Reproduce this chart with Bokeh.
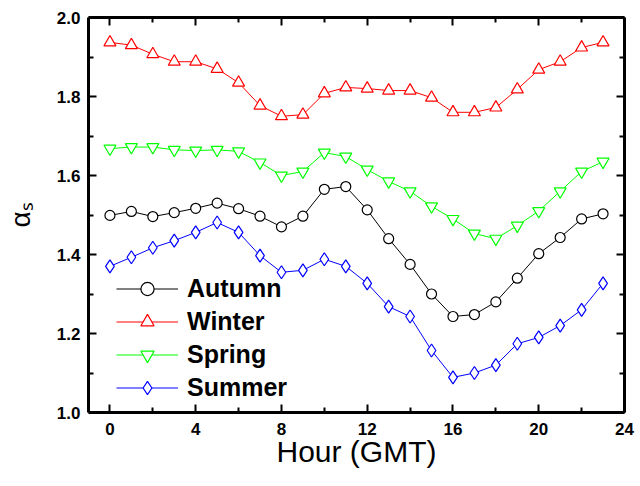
from bokeh.plotting import figure
from bokeh.models import Range1d, FixedTicker, LinearAxis, Legend, LegendItem, PrintfTickFormatter
from bokeh.embed import file_html
from bokeh.resources import INLINE

hours = list(range(24))
autumn = [1.499, 1.509, 1.496, 1.506, 1.517, 1.530, 1.516, 1.497, 1.470, 1.497, 1.565, 1.572,
          1.513, 1.440, 1.375, 1.300, 1.243, 1.248, 1.280, 1.340, 1.402, 1.443, 1.490, 1.503]
winter = [1.937, 1.930, 1.907, 1.888, 1.888, 1.870, 1.835, 1.777, 1.750, 1.754, 1.808, 1.823,
          1.820, 1.815, 1.815, 1.797, 1.760, 1.760, 1.772, 1.818, 1.868, 1.888, 1.924, 1.937]
spring = [1.668, 1.672, 1.672, 1.665, 1.663, 1.665, 1.661, 1.633, 1.600, 1.610, 1.658, 1.648,
          1.615, 1.585, 1.560, 1.522, 1.490, 1.453, 1.440, 1.473, 1.510, 1.560, 1.610, 1.635]
summer = [1.370, 1.393, 1.417, 1.435, 1.456, 1.481, 1.456, 1.397, 1.355, 1.360, 1.388, 1.370,
          1.327, 1.268, 1.243, 1.157, 1.089, 1.100, 1.120, 1.174, 1.190, 1.220, 1.260, 1.327]

x_ticks = [0, 4, 8, 12, 16, 20, 24]
x_minor = [2, 6, 10, 14, 18, 22]
y_ticks = [1.0, 1.2, 1.4, 1.6, 1.8, 2.0]
y_minor = [1.1, 1.3, 1.5, 1.7, 1.9]

FONT = "Liberation Sans"

p = figure(width=640, height=486, output_backend="svg", toolbar_location=None,
           x_range=Range1d(-1, 24), y_range=Range1d(1.0, 2.0),
           min_border_left=88, min_border_right=16, min_border_top=17, min_border_bottom=74)
p.grid.visible = False
p.outline_line_color = None
p.background_fill_color = "white"
p.border_fill_color = "white"


def style_axis(ax, show_labels):
    ax.axis_line_width = 3
    ax.axis_line_color = "black"
    ax.major_tick_line_width = 2
    ax.minor_tick_line_width = 2
    ax.major_tick_in = 8
    ax.major_tick_out = 0
    ax.minor_tick_in = 5
    ax.minor_tick_out = 0
    if show_labels:
        ax.major_label_text_font = FONT
        ax.major_label_text_font_style = "bold"
        ax.major_label_text_font_size = "17px"
        ax.major_label_text_color = "black"
    else:
        ax.major_label_text_font_size = "1px"
        ax.major_label_text_color = None
        ax.major_label_text_alpha = 0
        ax.major_label_standoff = 0


xa = p.xaxis[0]
xa.ticker = FixedTicker(ticks=x_ticks, minor_ticks=x_minor)
style_axis(xa, True)
xa.major_label_standoff = 10
xa.axis_label = "Hour (GMT)"
xa.axis_label_text_font = FONT
xa.axis_label_text_font_style = "normal"
xa.axis_label_text_font_size = "30px"
xa.axis_label_text_color = "black"
xa.axis_label_standoff = -3

ya = p.yaxis[0]
ya.ticker = FixedTicker(ticks=y_ticks, minor_ticks=y_minor)
ya.formatter = PrintfTickFormatter(format="%.1f")
style_axis(ya, True)
ya.major_label_standoff = 8
ya.axis_label = "αₛ"
ya.axis_label_text_font = FONT
ya.axis_label_text_font_style = "normal"
ya.axis_label_text_font_size = "28px"
ya.axis_label_text_color = "black"
ya.axis_label_standoff = 18

top = LinearAxis(ticker=FixedTicker(ticks=x_ticks, minor_ticks=x_minor))
style_axis(top, False)
p.add_layout(top, "above")
right = LinearAxis(ticker=FixedTicker(ticks=y_ticks, minor_ticks=y_minor))
style_axis(right, False)
p.add_layout(right, "right")

series = [
    ("Autumn", autumn, "#000000", "circle", 10),
    ("Winter", winter, "#FF0000", "triangle", 12),
    ("Spring", spring, "#00FF00", "inverted_triangle", 12),
    ("Summer", summer, "#0000FF", "diamond", 13),
]
items = []
for name, vals, col, mk, sz in series:
    ln = p.line(hours, vals, line_color=col, line_width=1)
    sc = p.scatter(hours, vals, marker=mk, size=sz, line_color=col, fill_color="white", line_width=1.2)
    items.append(LegendItem(label=name, renderers=[ln, sc]))

legend = Legend(items=items, location=(28, 8), border_line_color=None, background_fill_alpha=0,
                label_text_font=FONT, label_text_font_style="bold", label_text_font_size="25px",
                label_text_color="black",
                glyph_width=62, glyph_height=33, label_height=33, spacing=0, padding=0, margin=0,
                label_standoff=9)
p.add_layout(legend)

open("out.html", "w").write(file_html(p, INLINE))
